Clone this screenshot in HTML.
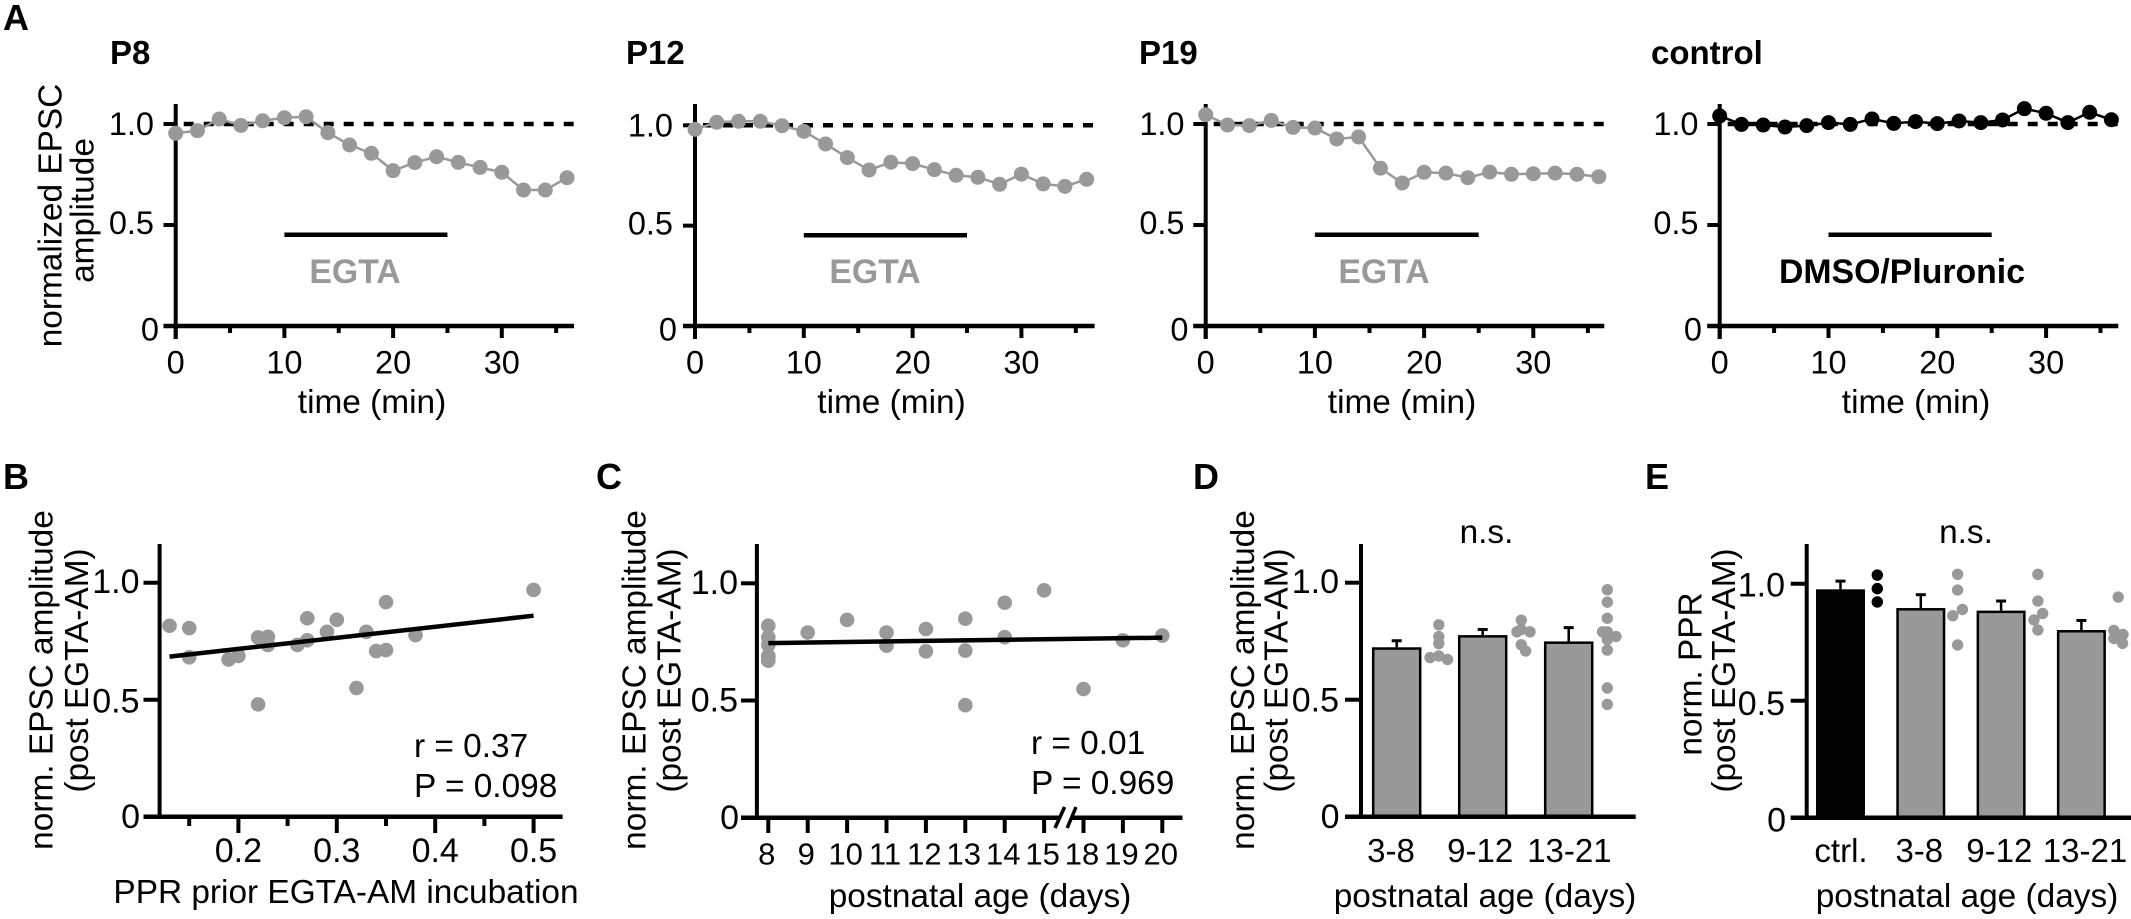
<!DOCTYPE html>
<html lang="en">
<head>
<meta charset="utf-8">
<title>EGTA-AM effect on EPSC amplitude</title>
<style>
html,body{margin:0;padding:0;background:#fff;}
svg{display:block;}
text{font-family:"Liberation Sans",Arial,sans-serif;fill:#000;}
.lbl{font-size:33.4px;}
.stat{font-size:33.4px;}
.ttl{font-size:33px;font-weight:bold;}
.let{font-size:36px;font-weight:bold;}
.drug{font-size:33.8px;font-weight:bold;}
.mid{text-anchor:middle;}
</style>
</head>
<body>
<svg id="fig" xmlns="http://www.w3.org/2000/svg" width="2131" height="919" viewBox="0 0 2131 919">
  <rect x="0" y="0" width="2131" height="919" fill="#fff"/>
  <text class="let" x="3" y="30">A</text>
  <text class="let" x="3" y="489">B</text>
  <text class="let" x="596" y="489">C</text>
  <text class="let" x="1193" y="489">D</text>
  <text class="let" x="1645" y="489">E</text>

  <text class="ttl" x="110" y="64">P8</text>
  <text class="ttl" x="626" y="64">P12</text>
  <text class="ttl" x="1139" y="64">P19</text>
  <text class="ttl" x="1651" y="64">control</text>

  <text class="lbl mid" transform="translate(61.5 215.5) rotate(-90)">normalized EPSC</text>
  <text class="lbl mid" transform="translate(93.5 210.5) rotate(-90)">amplitude</text>

  <text class="lbl mid" x="372" y="413">time (min)</text>
  <text class="lbl mid" x="891.5" y="413">time (min)</text>
  <text class="lbl mid" x="1402" y="413">time (min)</text>
  <text class="lbl mid" x="1916" y="413">time (min)</text>

  <text class="drug mid" x="355" y="283" style="fill:#999">EGTA</text>
  <text class="drug mid" x="875" y="283" style="fill:#999">EGTA</text>
  <text class="drug mid" x="1384" y="283" style="fill:#999">EGTA</text>
  <text class="drug mid" x="1902" y="283">DMSO/Pluronic</text>

  <text class="lbl mid" transform="translate(52.5 680) rotate(-90)">norm. EPSC amplitude</text>
  <text class="lbl mid" transform="translate(88 670.5) rotate(-90)">(post EGTA-AM)</text>
  <text class="lbl mid" x="346" y="903">PPR prior EGTA-AM incubation</text>
  <text class="stat" x="414" y="757">r = 0.37</text>
  <text class="stat" x="414" y="797">P = 0.098</text>

  <text class="lbl mid" transform="translate(645.5 680) rotate(-90)">norm. EPSC amplitude</text>
  <text class="lbl mid" transform="translate(680.5 670.5) rotate(-90)">(post EGTA-AM)</text>
  <text class="lbl mid" x="980" y="907">postnatal age (days)</text>
  <text class="stat" x="1031" y="754">r = 0.01</text>
  <text class="stat" x="1031" y="794">P = 0.969</text>

  <text class="lbl mid" transform="translate(1254 680) rotate(-90)">norm. EPSC amplitude</text>
  <text class="lbl mid" transform="translate(1287.5 670.5) rotate(-90)">(post EGTA-AM)</text>
  <text class="lbl mid" x="1485" y="907">postnatal age (days)</text>
  <text class="lbl mid" x="1486.5" y="543">n.s.</text>

  <text class="lbl mid" transform="translate(1701.5 674) rotate(-90)">norm. PPR</text>
  <text class="lbl mid" transform="translate(1735 670.5) rotate(-90)">(post EGTA-AM)</text>
  <text class="lbl mid" x="1967" y="907">postnatal age (days)</text>
  <text class="lbl mid" x="1966" y="543">n.s.</text>
</svg>
<script>
// ---- Panel A data ----
var timeMinutes = [0,2,4,6,8,10,12,14,16,18,20,22,24,26,28,30,32,34,36];
var p8Amplitude = [0.954,0.967,1.025,0.993,1.016,1.031,1.036,0.957,0.896,0.855,0.769,0.809,0.838,0.81,0.785,0.761,0.673,0.673,0.734];
var p12Amplitude = [0.98,1.015,1.02,1.02,0.998,0.97,0.907,0.839,0.777,0.816,0.809,0.779,0.751,0.741,0.706,0.757,0.708,0.696,0.731];
var p19Amplitude = [1.046,0.995,0.992,1.018,0.983,0.98,0.926,0.936,0.781,0.708,0.761,0.757,0.734,0.762,0.751,0.754,0.757,0.751,0.739];
var controlAmplitude = [1.04,0.998,0.995,0.985,0.992,1.007,0.998,1.025,1.003,1.012,1.002,1.015,1.007,1.02,1.076,1.053,1.007,1.058,1.021];
var timeTickLabels = [0,10,20,30];
var timeMinorTicks = [5,15,25,35];
var drugWindow = [10,25];
var baselineLevel = 1;
var drugBarLevel = 0.452;

// ---- Shared y ticks ----
var amplitudeTicks = [0,0.5,1];
var amplitudeTickLabels = ['0','0.5','1.0'];

// ---- Panel B data ----
var pprPrior = [0.13,0.15,0.15,0.19,0.2,0.22,0.23,0.23,0.22,0.26,0.27,0.27,0.29,0.3,0.33,0.32,0.34,0.35,0.35,0.38,0.5];
var pprAmplitude = [0.816,0.806,0.681,0.672,0.687,0.766,0.769,0.734,0.48,0.734,0.848,0.754,0.79,0.842,0.79,0.55,0.708,0.712,0.917,0.776,0.969];
var pprFitX = [0.13,0.5];
var pprFitY = [0.684,0.859];
var pprMajorTicks = [0.2,0.3,0.4,0.5];
var pprMajorLabels = ['0.2','0.3','0.4','0.5'];
var pprMinorTicks = [0.15,0.25,0.35,0.45];

// ---- Panel C data (categories are evenly spaced across the axis break) ----
var ageCategories = ['8','9','10','11','12','13','14','15','18','19','20'];
var ageDotCategory = ['8','8','8','8','8','8','9','10','11','11','12','12','13','13','13','14','14','15','18','19','20'];
var ageDotAmplitude = [0.819,0.77,0.737,0.69,0.687,0.67,0.79,0.844,0.79,0.734,0.805,0.71,0.849,0.713,0.48,0.917,0.77,0.97,0.549,0.757,0.777];
var ageFitY = [0.745,0.768];

// ---- Panel D data ----
var ageGroups = ['3-8','9-12','13-21'];
var dMeans = [0.724,0.776,0.749];
var dUpperError = [0.752,0.8,0.808];
var dDots = [
  [0.82,0.77,0.74,0.68,0.687,0.672],
  [0.84,0.8,0.79,0.79,0.735,0.708],
  [0.97,0.917,0.848,0.79,0.79,0.77,0.757,0.712,0.55,0.48]
];
var dDotSlots = [
  [0.4,0.4,0.4,-0.6,0.4,1.4],
  [0,0,-0.5,1,0,0.5],
  [0,0,0,-0.55,0,1,0,0,0,0]
];

// ---- Panel E data ----
var pprGroups = ['ctrl.','3-8','9-12','13-21'];
var eMeans = [0.976,0.896,0.885,0.802];
var eUpperError = [1.011,0.953,0.926,0.843];
var eDots = [
  [1.037,0.979,0.922],
  [1.04,0.973,0.89,0.863,0.738],
  [1.04,0.926,0.873,0.845,0.802],
  [0.943,0.8,0.783,0.766,0.745]
];
var eDotSlots = [
  [0,0,0],
  [0,0,0.55,-0.55,0],
  [0,0,0.55,-0.45,0],
  [0,-0.5,0.55,-0.5,0.5]
];

var SVGNS = 'http://www.w3.org/2000/svg';
var fig = document.getElementById('fig');

function mk(tag, name, attrs, text) {
  var el = document.createElementNS(SVGNS, tag);
  
  
  for (var k in attrs) { el.setAttribute(k, attrs[k]); }
  if (text !== undefined) { el.textContent = text; }
  fig.appendChild(el);
  return el;
}
function line(name, x1, y1, x2, y2, w, color, dash) {
  var a = {x1:x1, y1:y1, x2:x2, y2:y2, stroke:color || '#000', 'stroke-width':w};
  if (dash) { a['stroke-dasharray'] = dash; }
  return mk('line', name, a);
}
function dot(name, x, y, r, color) {
  return mk('circle', name, {cx:x, cy:y, r:r, fill:color});
}
function label(name, x, y, str, size, anchor) {
  return mk('text', name, {x:x, y:y, 'font-size':size, 'text-anchor':anchor}, str);
}

// Y axis with ticks and labels
function yAxis(p, prefix) {
  var sy = function (v) { return p.y0 - v * p.unit; };
  line(prefix + '-y-axis', p.x0, p.top, p.x0, p.axisBottom, p.w);
  amplitudeTicks.forEach(function (t, i) {
    var yy = sy(t);
    line(prefix + '-y-tick-' + amplitudeTickLabels[i], p.tickLeft, yy, p.x0, yy, p.w);
    var isZero = t === 0;
    label(prefix + '-y-label-' + amplitudeTickLabels[i],
      isZero ? p.zeroRight : p.labelRight,
      yy + (isZero ? p.zeroDy : (t === 1 ? p.oneDy : p.halfDy)),
      amplitudeTickLabels[i], p.fs, 'end');
  });
  return sy;
}

// ---- Panel A ----
var aPanels = [
  {id:'p8', vals:p8Amplitude, color:'#999', x0:175.7, ppm:10.87, xEnd:574, tickLeft:163.5, y0:326, unit:202, labelRight:154, zeroRight:159},
  {id:'p12', vals:p12Amplitude, color:'#999', x0:695, ppm:10.88, xEnd:1094.6, tickLeft:683, y0:326, unit:200.7, labelRight:673, zeroRight:677},
  {id:'p19', vals:p19Amplitude, color:'#999', x0:1205.7, ppm:10.92, xEnd:1604.3, tickLeft:1193.3, y0:326, unit:202, labelRight:1184.5, zeroRight:1188.5},
  {id:'control', vals:controlAmplitude, color:'#000', x0:1719.7, ppm:10.88, xEnd:2118.3, tickLeft:1707.3, y0:326, unit:202, labelRight:1698.5, zeroRight:1702}
];
aPanels.forEach(function (p) {
  p.top = 104; p.axisBottom = 339; p.w = 4; p.fs = 32.5;
  p.oneDy = 11; p.halfDy = 9; p.zeroDy = 14.7;
  var pre = 'panel-' + p.id;
  var sx = function (t) { return p.x0 + t * p.ppm; };
  var sy = function (v) { return p.y0 - v * p.unit; };
  line(pre + '-baseline-dashed', p.x0 + 8, sy(baselineLevel), p.xEnd, sy(baselineLevel), 4.5, '#000', '10 10');
  yAxis(p, pre);
  line(pre + '-x-axis', p.tickLeft, p.y0, p.xEnd, p.y0, 4.5);
  timeTickLabels.forEach(function (t) {
    line(pre + '-x-tick-' + t, sx(t), p.y0, sx(t), 338, 4);
    label(pre + '-x-label-' + t, sx(t), 373.5, String(t), 32.5, 'middle');
  });
  timeMinorTicks.forEach(function (t) {
    line(pre + '-x-minor-tick-' + t, sx(t), p.y0, sx(t), 333, 4);
  });
  line(pre + '-drug-bar', sx(drugWindow[0]), sy(drugBarLevel), sx(drugWindow[1]), sy(drugBarLevel), 4.5);
  var pts = p.vals.map(function (v, i) { return sx(timeMinutes[i]) + ',' + sy(v); }).join(' ');
  mk('polyline', pre + '-series-line', {points:pts, fill:'none', stroke:p.color === '#000' ? '#000' : '#999', 'stroke-width':2.5});
  p.vals.forEach(function (v, i) {
    dot(pre + '-point-' + timeMinutes[i], sx(timeMinutes[i]), sy(v), 7.5, p.color);
  });
});

// ---- Panel B ----
(function () {
  var p = {x0:159.6, top:544, axisBottom:817, tickLeft:143.5, y0:816.7, unit:234, w:4, fs:34,
           labelRight:139.5, zeroRight:140, oneDy:10.5, halfDy:13, zeroDy:11.5};
  var sy = yAxis(p, 'panel-b');
  var sx = function (v) { return 238.4 + (v - 0.2) * 984; };
  line('panel-b-x-axis', p.tickLeft, p.y0, 562.6, p.y0, 4.5);
  pprMajorTicks.forEach(function (t, i) {
    line('panel-b-x-tick-' + pprMajorLabels[i], sx(t), p.y0, sx(t), 833, 4);
    label('panel-b-x-label-' + pprMajorLabels[i], sx(t), 862, pprMajorLabels[i], 34, 'middle');
  });
  pprMinorTicks.forEach(function (t) {
    line('panel-b-x-minor-tick-' + t, sx(t), p.y0, sx(t), 826, 4);
  });
  pprPrior.forEach(function (x, i) {
    dot('panel-b-point-' + i, sx(x), sy(pprAmplitude[i]), 7.3, '#999');
  });
  line('panel-b-fit-line', sx(pprFitX[0]), sy(pprFitY[0]), sx(pprFitX[1]), sy(pprFitY[1]), 4.5);
})();

// ---- Panel C ----
(function () {
  var p = {x0:756.9, top:544, axisBottom:818, tickLeft:741, y0:817.7, unit:234.4, w:4, fs:34,
           labelRight:738, zeroRight:739, oneDy:10.5, halfDy:11, zeroDy:11.5};
  var sy = yAxis(p, 'panel-c');
  var sx = function (cat) { return 768.3 + ageCategories.indexOf(cat) * 39.4; };
  line('panel-c-x-axis-left', p.tickLeft, p.y0, 1060, p.y0, 4.5);
  line('panel-c-x-axis-right', 1071.5, p.y0, 1182.5, p.y0, 4.5);
  line('panel-c-axis-break-1', 1055, 828, 1064.6, 807, 3.5);
  line('panel-c-axis-break-2', 1067.2, 828, 1076, 807, 3.5);
  ageCategories.forEach(function (c) {
    line('panel-c-x-tick-' + c, sx(c), p.y0, sx(c), 833, 4);
    label('panel-c-x-label-' + c, sx(c) - 1.5, 864.5, c, 31, 'middle');
  });
  ageDotCategory.forEach(function (c, i) {
    dot('panel-c-point-' + i, sx(c), sy(ageDotAmplitude[i]), 7.3, '#999');
  });
  var first = ageCategories[0], last = ageCategories[ageCategories.length - 1];
  line('panel-c-fit-line', sx(first), sy(ageFitY[0]), sx(last), sy(ageFitY[1]), 4.5);
})();

// ---- Bars (panels D, E) ----
function barPanel(p, names, means, errs, dots, slots, pre) {
  var sy = function (v) { return p.y0 - v * p.unit; };
  names.forEach(function (n, i) {
    var cx = p.first + i * p.step;
    var fill = (p.blackFirst && i === 0) ? '#000' : '#999';
    line(pre + '-error-stem-' + n, cx, sy(means[i]), cx, sy(errs[i]), 2.5);
    line(pre + '-error-cap-' + n, cx - 5, sy(errs[i]), cx + 5, sy(errs[i]), 3);
    mk('rect', pre + '-bar-' + n, {x:cx - p.bw / 2 + 1.25, y:sy(means[i]) + 1.25, width:p.bw - 2.5,
       height:p.y0 - sy(means[i]) - 1.25, fill:fill, stroke:'#000', 'stroke-width':2.5});
    dots[i].forEach(function (v, j) {
      dot(pre + '-dot-' + n + '-' + j, cx + p.dotOffset + slots[i][j] * 8.7, sy(v), 5.7, fill);
    });
    label(pre + '-x-label-' + n, p.labelX(i), 862, n, 33, 'middle');
  });
  line(pre + '-x-axis', p.tickLeft, p.y0, p.xEnd, p.y0, 4.5);
  yAxis(p, pre);
}
barPanel({x0:1361, top:544, axisBottom:817, tickLeft:1345, xEnd:1635.7, y0:816.7, unit:234, w:4, fs:34,
  labelRight:1339, zeroRight:1339.5, oneDy:10.5, halfDy:12, zeroDy:11.5,
  first:1396.7, step:86, bw:49.5, dotOffset:38.6,
  labelX:function (i) { return 1391 + i * 89.2; }},
  ageGroups, dMeans, dUpperError, dDots, dDotSlots, 'panel-d');
barPanel({x0:1806.7, top:544, axisBottom:818, tickLeft:1790.7, xEnd:2131, y0:817.7, unit:234, w:4, fs:34,
  labelRight:1785, zeroRight:1786, oneDy:13, halfDy:14.5, zeroDy:14,
  first:1840.5, step:80.3, bw:49, dotOffset:36.8, blackFirst:true,
  labelX:function (i) { return [1841, 1919.3, 1999.3, 2085][i]; }},
  pprGroups, eMeans, eUpperError, eDots, eDotSlots, 'panel-e');
</script>
</body>
</html>
